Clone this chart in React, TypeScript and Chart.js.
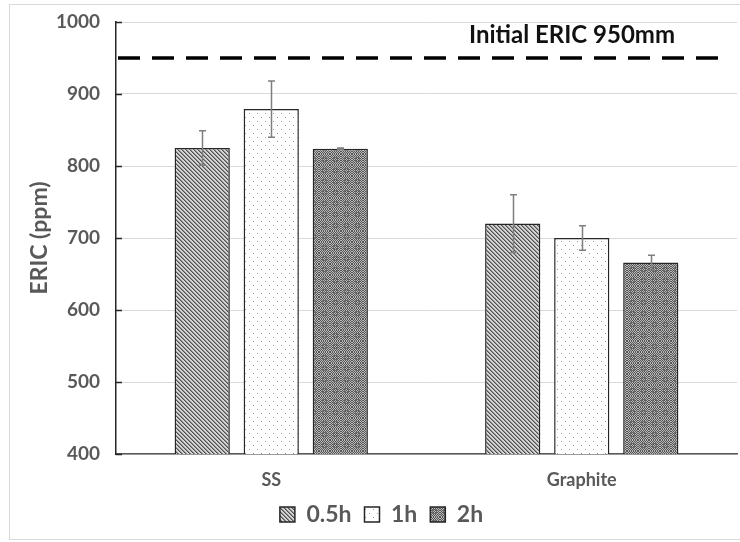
import { useEffect, useRef } from "react";
import { Chart, registerables } from "chart.js";

Chart.register(...registerables);

// Data
const categories = ["SS", "Graphite"];
const seriesNames = ["0.5h", "1h", "2h"];
const values05 = [825, 720];
const values1 = [879, 700];
const values2 = [824, 666];
const errors05 = [24, 40];
const errors1 = [39, 17];
const errors2 = [1, 10];
const yTicks = [400, 500, 600, 700, 800, 900, 1000];
const initialLevel = 950;
const initialLabel = "Initial ERIC 950mm";

const FONT = "Lato, 'Open Sans', sans-serif";
const GREY_TEXT = "#595959";

type PatternKind = "hatch" | "dots" | "grid";

function makePattern(kind: PatternKind): CanvasPattern | string {
  const c = document.createElement("canvas");
  const ctx = c.getContext("2d");
  if (!ctx) return "#999";
  if (kind === "hatch") {
    // fine diagonal hatching
    c.width = 4;
    c.height = 4;
    ctx.fillStyle = "#d4d4d4";
    ctx.fillRect(0, 0, 4, 4);
    for (let y = 0; y < 4; y++) {
      for (let x = 0; x < 4; x++) {
        const d = (((x - y) % 4) + 4) % 4;
        if (d === 0) {
          ctx.fillStyle = "#505050";
          ctx.fillRect(x, y, 1, 1);
        } else if (d === 1) {
          ctx.fillStyle = "#8e8e8e";
          ctx.fillRect(x, y, 1, 1);
        }
      }
    }
  } else if (kind === "dots") {
    // sparse dots on white
    c.width = 8;
    c.height = 8;
    ctx.fillStyle = "#ffffff";
    ctx.fillRect(0, 0, 8, 8);
    ctx.fillStyle = "#9a9a9a";
    ctx.fillRect(1, 1, 1, 1);
    ctx.fillRect(5, 5, 1, 1);
  } else {
    // dense checker with a coarser square lattice
    const s = 11;
    c.width = s;
    c.height = s;
    for (let y = 0; y < s; y++) {
      for (let x = 0; x < s; x++) {
        const on = (x + y) % 2 === 0;
        ctx.fillStyle = on ? "#565656" : "#b8b8b8";
        ctx.fillRect(x, y, 1, 1);
      }
    }
    ctx.fillStyle = "#6a6a6a";
    ctx.fillRect(3, 3, 5, 1);
    ctx.fillRect(3, 7, 5, 1);
    ctx.fillRect(3, 3, 1, 5);
    ctx.fillRect(7, 3, 1, 5);
  }
  return ctx.createPattern(c, "repeat") || "#999";
}

const framePlugin = {
  id: "frame",
  beforeDraw(chart: Chart) {
    const ctx = chart.ctx;
    ctx.save();
    ctx.fillStyle = "#ffffff";
    ctx.fillRect(0, 0, chart.width, chart.height);
    ctx.strokeStyle = "#d9d9d9";
    ctx.lineWidth = 1;
    ctx.strokeRect(9.5, 4.5, chart.width, 535);
    ctx.restore();
  },
};

// legend sits a little right of the canvas centre
const legendShiftPlugin = {
  id: "legendShift",
  afterLayout(chart: Chart) {
    const lg: any = (chart as any).legend;
    if (lg) {
      lg.left += 13;
      lg.right += 13;
    }
  },
};

const errorSets = [errors05, errors1, errors2];

const errorBarPlugin = {
  id: "errorBars",
  afterDatasetsDraw(chart: Chart) {
    const ctx = chart.ctx;
    const ys = chart.scales.y;
    ctx.save();
    ctx.strokeStyle = "#7f7f7f";
    ctx.lineWidth = 1.5;
    chart.data.datasets.forEach((ds, i) => {
      const meta = chart.getDatasetMeta(i);
      meta.data.forEach((bar: any, j: number) => {
        const v = ds.data[j] as number;
        const e = errorSets[i][j];
        const x = Math.round(bar.x) + 0.5;
        const top = ys.getPixelForValue(v + e);
        const bot = ys.getPixelForValue(v - e);
        ctx.beginPath();
        ctx.moveTo(x, top);
        ctx.lineTo(x, bot);
        ctx.moveTo(x - 3.5, top);
        ctx.lineTo(x + 3.5, top);
        ctx.moveTo(x - 3.5, bot);
        ctx.lineTo(x + 3.5, bot);
        ctx.stroke();
      });
    });
    ctx.restore();
  },
};

const referenceLinePlugin = {
  id: "referenceLine",
  afterDatasetsDraw(chart: Chart) {
    const ctx = chart.ctx;
    const ys = chart.scales.y;
    const area = chart.chartArea;
    const y = ys.getPixelForValue(initialLevel);
    ctx.save();
    ctx.strokeStyle = "#000000";
    ctx.lineWidth = 3.5;
    ctx.setLineDash([22, 12]);
    ctx.beginPath();
    ctx.moveTo(area.left + 2, y);
    ctx.lineTo(area.right - 16, y);
    ctx.stroke();
    ctx.setLineDash([]);
    ctx.fillStyle = "#111111";
    ctx.font = `bold 24px ${FONT}`;
    ctx.textAlign = "right";
    ctx.textBaseline = "middle";
    ctx.fillText(initialLabel, area.right - 62, ys.getPixelForValue(1000) + 13);
    ctx.restore();
  },
};

const innerTicksPlugin = {
  id: "innerTicks",
  afterDraw(chart: Chart) {
    const ctx = chart.ctx;
    const ys = chart.scales.y;
    const left = chart.chartArea.left;
    ctx.save();
    ctx.strokeStyle = "#262626";
    ctx.lineWidth = 1.5;
    yTicks.forEach((t) => {
      const y = Math.round(ys.getPixelForValue(t)) + 0.5;
      ctx.beginPath();
      ctx.moveTo(left, y);
      ctx.lineTo(left + 6, y);
      ctx.stroke();
    });
    ctx.restore();
  },
};

export default function App() {
  const canvasRef = useRef<HTMLCanvasElement | null>(null);

  useEffect(() => {
    document.body.style.margin = "0";
    const canvas = canvasRef.current;
    if (!canvas) return;
    const fills = [makePattern("hatch"), makePattern("dots"), makePattern("grid")];
    const seriesValues = [values05, values1, values2];

    const chart = new Chart(canvas, {
      type: "bar",
      data: {
        labels: categories,
        datasets: seriesNames.map((name, i) => ({
          label: name,
          data: seriesValues[i],
          backgroundColor: fills[i] as any,
          borderColor: "#262626",
          borderWidth: 1.5,
          barPercentage: 0.8,
          categoryPercentage: 0.667,
        })),
      },
      options: {
        responsive: false,
        animation: false,
        devicePixelRatio: 1,
        layout: { padding: { left: 0, right: 3, top: 22, bottom: 6 } },
        plugins: {
          tooltip: { enabled: false },
          legend: {
            position: "bottom",
            labels: {
              boxWidth: 15,
              boxHeight: 15,
              padding: 13,
              color: GREY_TEXT,
              font: { family: FONT, size: 23, weight: "bold" },
            },
          },
        },
        scales: {
          x: {
            grid: { display: false },
            border: { color: "#595959", width: 1.5 },
            ticks: {
              color: GREY_TEXT,
              font: { family: FONT, size: 18, weight: "bold" },
              padding: 7,
            },
            afterFit: (scale: any) => {
              scale.height = 36;
            },
          },
          y: {
            min: 400,
            max: 1000,
            afterBuildTicks: (scale: any) => {
              scale.ticks = yTicks.map((v) => ({ value: v }));
            },
            grid: { color: "#d9d9d9", lineWidth: 1, drawTicks: false },
            border: { color: "#262626", width: 1.5 },
            ticks: {
              color: GREY_TEXT,
              font: { family: FONT, size: 19, weight: "bold" },
              padding: 16,
              callback: (v: any) => String(v),
            },
            title: {
              display: true,
              text: "ERIC (ppm)",
              color: GREY_TEXT,
              font: { family: FONT, size: 23, weight: "bold" },
              padding: { top: 26, bottom: 0 },
            },
            afterFit: (scale: any) => {
              scale.width = 116;
              scale.paddingTop = 0;
              scale.paddingBottom = 0;
            },
          },
        },
      },
      plugins: [framePlugin, legendShiftPlugin, errorBarPlugin, referenceLinePlugin, innerTicksPlugin],
    });
    return () => chart.destroy();
  }, []);

  return (
    <div style={{ width: 740, height: 542 }}>
      <canvas ref={canvasRef} width={740} height={542} />
    </div>
  );
}
